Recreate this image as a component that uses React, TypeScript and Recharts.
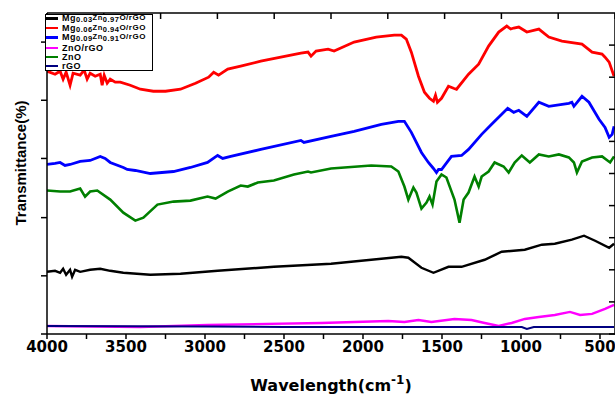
import React from 'react';
import { LineChart, Line, XAxis, YAxis } from 'recharts';

// wavenumber (cm-1) and transmittance (a.u.)
const blackWave = [4000, 3949, 3917, 3898, 3879, 3854, 3841, 3822, 3790, 3727, 3663, 3600, 3517, 3346, 3155, 2920, 2564, 2202, 1757, 1713, 1630, 1554, 1459, 1376, 1230, 1122, 976, 868, 786, 678, 601, 531, 442, 411];
const blackT = [62, 63, 61, 65, 59, 64, 57, 64, 62, 64, 65, 63, 61, 59, 60, 63, 67, 70, 77, 76, 66, 61, 67, 67, 74, 82, 84, 89, 90, 94, 98, 93, 86, 90];

const redWave = [4000, 3949, 3917, 3898, 3879, 3854, 3835, 3790, 3765, 3746, 3727, 3695, 3663, 3651, 3638, 3619, 3600, 3568, 3536, 3473, 3409, 3327, 3250, 3155, 3060, 2977, 2945, 2914, 2856, 2774, 2647, 2520, 2393, 2348, 2329, 2297, 2221, 2183, 2056, 1916, 1802, 1757, 1726, 1694, 1649, 1611, 1579, 1554, 1541, 1529, 1503, 1459, 1427, 1408, 1332, 1268, 1205, 1141, 1090, 1065, 1046, 1014, 963, 887, 824, 741, 614, 550, 487, 468, 442, 411];
const redT = [262, 259, 262, 254, 261, 248, 260, 258, 263, 254, 260, 257, 259, 248, 258, 250, 254, 251, 251, 248, 244, 242, 242, 244, 250, 256, 261, 258, 264, 267, 272, 276, 280, 281, 277, 282, 284, 282, 291, 296, 298, 298, 294, 281, 257, 241, 235, 232, 238, 231, 235, 247, 245, 244, 259, 269, 287, 301, 307, 304, 305, 306, 301, 304, 296, 292, 289, 281, 279, 276, 271, 257];

const blueWave = [4000, 3949, 3917, 3886, 3854, 3790, 3727, 3663, 3632, 3600, 3517, 3492, 3441, 3346, 3199, 3092, 2984, 2920, 2888, 2837, 2647, 2393, 2374, 2202, 2056, 1884, 1776, 1738, 1694, 1630, 1586, 1554, 1535, 1522, 1503, 1440, 1376, 1332, 1249, 1186, 1122, 1084, 1046, 1014, 963, 887, 824, 697, 678, 665, 614, 570, 506, 468, 442, 423, 411];
const blueT = [169, 170, 171, 168, 169, 172, 173, 177, 175, 171, 166, 164, 163, 160, 162, 166, 171, 178, 175, 177, 184, 193, 191, 197, 202, 209, 212, 212, 201, 181, 171, 165, 161, 164, 164, 177, 178, 184, 199, 209, 219, 225, 221, 223, 217, 231, 227, 230, 231, 227, 237, 231, 214, 206, 196, 199, 207];

const magentaWave = [4000, 3409, 2984, 2266, 1840, 1738, 1649, 1567, 1421, 1313, 1230, 1141, 1059, 976, 887, 786, 690, 626, 550, 468, 411];
const magentaT = [8, 7, 9, 11, 13, 12, 14, 12, 15, 14, 11, 8, 11, 15, 17, 19, 22, 19, 20, 25, 29];

const greenWave = [4000, 3917, 3854, 3790, 3759, 3727, 3682, 3600, 3517, 3441, 3390, 3301, 3199, 3092, 2984, 2933, 2856, 2774, 2729, 2666, 2564, 2437, 2348, 2329, 2202, 1948, 1821, 1776, 1738, 1713, 1681, 1662, 1630, 1598, 1579, 1560, 1535, 1503, 1472, 1421, 1389, 1363, 1332, 1294, 1268, 1249, 1205, 1167, 1110, 1078, 1040, 995, 944, 887, 824, 760, 697, 665, 646, 614, 550, 487, 436, 411];
const greenT = [143, 142, 142, 145, 137, 142, 143, 134, 121, 113, 116, 129, 132, 133, 137, 135, 142, 148, 147, 151, 153, 159, 162, 161, 165, 168, 167, 162, 147, 134, 146, 141, 125, 131, 137, 129, 152, 159, 156, 134, 111, 134, 141, 157, 147, 157, 162, 171, 167, 161, 171, 178, 171, 179, 177, 179, 176, 171, 161, 172, 176, 177, 171, 177];

const rgoWave = [4000, 3000, 2500, 2000, 1500, 1059, 995, 963, 919, 800, 411];
const rgoT = [8, 7.5, 7, 7, 7, 7, 7, 5, 7, 7, 7];

const bottomTicks = [4000, 3750, 3500, 3250, 3000, 2750, 2500, 2250, 2000, 1750, 1500, 1250, 1000, 750, 500];
const topTicks = [4000, 3640.5, 3281, 2921.5, 2562, 2202.5, 1843, 1483.5, 1124, 764.5, 405];
const leftTicks = [0, 58, 116, 175, 233, 291];
const rightTicks = [0, 32, 64, 96, 128, 160, 192, 224, 256, 288];

const zip = (w: number[], t: number[]) => w.map((v, i) => ({ w: v, t: t[i] }));

const series = [
  { key: 'black', color: '#000000', width: 2.4, data: zip(blackWave, blackT), name: ['Mg', '0.03', 'Zn', '0.97', 'O/rGO'] },
  { key: 'red', color: '#ff0000', width: 2.8, data: zip(redWave, redT), name: ['Mg', '0.06', 'Zn', '0.94', 'O/rGO'] },
  { key: 'blue', color: '#0000ff', width: 2.8, data: zip(blueWave, blueT), name: ['Mg', '0.09', 'Zn', '0.91', 'O/rGO'] },
  { key: 'magenta', color: '#ff00ff', width: 2.4, data: zip(magentaWave, magentaT), name: ['ZnO/rGO'] },
  { key: 'green', color: '#008000', width: 2.6, data: zip(greenWave, greenT), name: ['ZnO'] },
  { key: 'rgo', color: '#000080', width: 2, data: zip(rgoWave, rgoT), name: ['rGO'] },
];

const legendRowTop = [-1.5, 8, 17.5, 28, 37, 46];

const axisStyle = { stroke: '#000', strokeWidth: 1.5 };
const noLabel = () => '';

const XTitle = (props: any) => {
  const { viewBox } = props;
  const cx = viewBox.x + viewBox.width / 2;
  return (
    <text x={cx} y={viewBox.y + 57} textAnchor="middle" fontFamily="DejaVu Sans" fontWeight="bold" fontSize={16} fill="#000">
      Wavelength(cm<tspan dy={-7} fontSize={12}>-1</tspan><tspan dy={7}>)</tspan>
    </text>
  );
};

const YTitle = () => (
  <text x={20} y={163} transform="rotate(-90, 20, 163)" textAnchor="middle" dominantBaseline="central" fontFamily="Liberation Sans, Arial" fontWeight="bold" fontSize={15} fill="#000">
    Transmittance(%)
  </text>
);

const LegendBox = () => (
  <div style={{ position: 'absolute', left: 45, top: 14, width: 108, height: 57, border: '1px solid #000', background: '#fff', fontFamily: 'Liberation Sans, Arial', fontWeight: 'bold', fontSize: 9, letterSpacing: 0.5, color: '#000', boxSizing: 'border-box' }}>
    {series.map((s, i) => (
      <div key={s.key} style={{ position: 'absolute', left: 0, top: legendRowTop[i], height: 10, display: 'flex', alignItems: 'center', whiteSpace: 'nowrap', lineHeight: '9px' }}>
        <span style={{ display: 'inline-block', width: 12, height: 2.5, background: s.color, marginRight: 4 }} />
        {s.name.length > 1 ? (
          <span>
            {s.name[0]}
            <span style={{ fontSize: 7.5, position: 'relative', top: 1 }}>{s.name[1]}</span>
            <span style={{ fontSize: 7.5, position: 'relative', top: -1 }}>{s.name[2]}</span>
            <span style={{ fontSize: 7.5, position: 'relative', top: 1 }}>{s.name[3]}</span>
            <span style={{ fontSize: 8, position: 'relative', top: -1 }}>{s.name[4]}</span>
          </span>
        ) : (
          <span>{s.name[0]}</span>
        )}
      </div>
    ))}
  </div>
);

export default function App() {
  return (
    <div style={{ position: 'absolute', left: 0, top: 0, width: 615, height: 395, background: '#fff' }}>
      <LineChart width={615} height={395} margin={{ top: 13, right: 0, bottom: 0, left: 7 }}>
        <XAxis
          xAxisId="bottom"
          type="number"
          dataKey="w"
          domain={[405, 4000]}
          allowDataOverflow
          reversed
          ticks={bottomTicks}
          interval={0}
          height={61}
          axisLine={axisStyle}
          tickLine={axisStyle}
          tickSize={5}
          tickFormatter={(v: number) => (v % 500 === 0 ? String(v) : '')}
          tick={{ fill: '#000', fontSize: 15, fontWeight: 'bold', fontFamily: 'DejaVu Sans' }}
          label={<XTitle />}
        />
        <XAxis
          xAxisId="top"
          orientation="top"
          type="number"
          dataKey="w"
          domain={[405, 4000]}
          allowDataOverflow
          reversed
          ticks={topTicks}
          interval={0}
          height={1}
          mirror
          tickFormatter={noLabel}
          tickSize={6}
          axisLine={axisStyle}
          tickLine={axisStyle}
        />
        <YAxis
          yAxisId="left"
          type="number"
          domain={[0, 320]}
          allowDataOverflow
          ticks={leftTicks}
          interval={0}
          width={40}
          tickFormatter={noLabel}
          tickSize={6}
          axisLine={axisStyle}
          tickLine={axisStyle}
          label={<YTitle />}
        />
        <YAxis
          yAxisId="right"
          orientation="right"
          type="number"
          domain={[0, 320]}
          allowDataOverflow
          ticks={rightTicks}
          interval={0}
          width={2}
          mirror
          tickFormatter={noLabel}
          tickSize={6}
          axisLine={axisStyle}
          tickLine={axisStyle}
        />
        {series.map((s, i) => (
          <Line
            key={s.key}
            xAxisId={i === series.length - 1 ? 'top' : 'bottom'}
            yAxisId={i === series.length - 1 ? 'right' : 'left'}
            data={s.data}
            dataKey="t"
            type="linear"
            stroke={s.color}
            strokeWidth={s.width}
            dot={false}
            isAnimationActive={false}
          />
        ))}
      </LineChart>
      <LegendBox />
    </div>
  );
}
